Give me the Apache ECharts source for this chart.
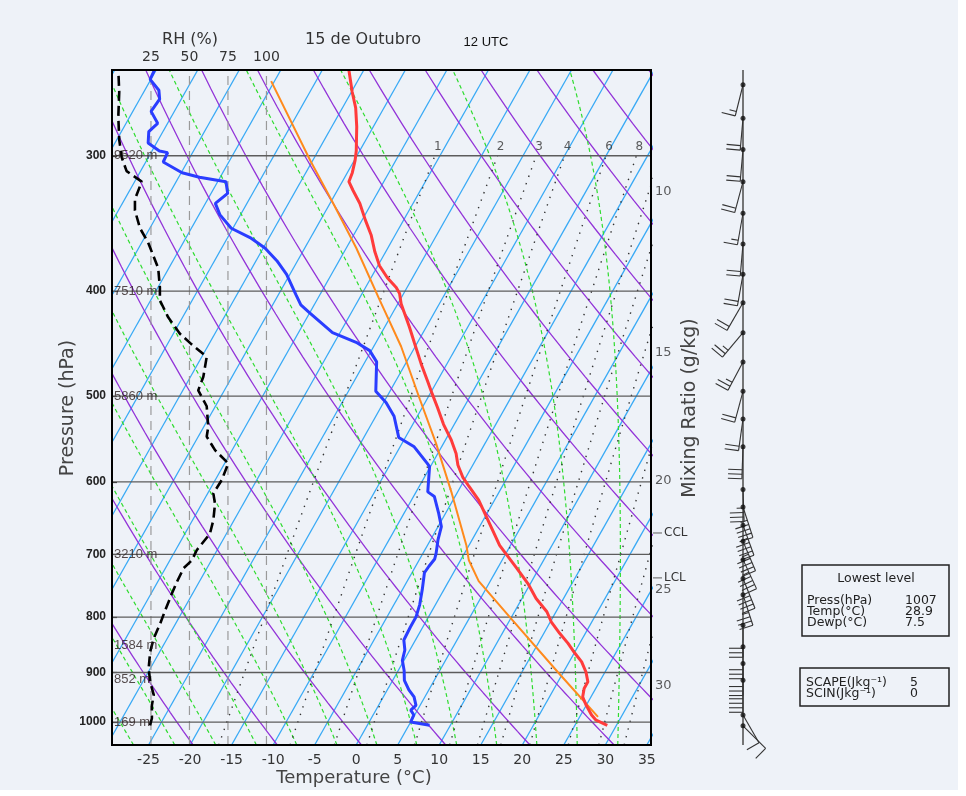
<!DOCTYPE html>
<html><head><meta charset="utf-8">
<script src="https://cdn.jsdelivr.net/npm/echarts@6/dist/echarts.min.js"></script>
<style>html,body{margin:0;padding:0;background:#eef2f8;}#c{width:966px;height:796px;}</style>
</head><body><div id="c"></div>
<script>
// ---------------- data ----------------
const tempP = [1007,996,985,965,948,931,918,899,880,864,846,828,808,791,769,745,721,701,687,624,606,594,579,565,549,531,512,498,484,467,447,432,411,402,397,389,379,368,355,344,332,323,317,311,303,297,282,271,262,250];
const tempT = [28.9,27.2,26.3,25.0,24.0,23.6,23.6,22.7,21.5,20.1,18.6,16.9,15.1,13.9,11.7,9.7,7.3,5.2,3.7,-1.9,-4.0,-5.4,-6.8,-7.8,-9.3,-11.3,-13.2,-14.7,-16.2,-18.1,-20.3,-22.0,-24.6,-25.5,-26.3,-28.0,-29.8,-31.3,-32.9,-34.6,-36.4,-38.1,-39.2,-39.4,-39.9,-40.4,-42.0,-43.4,-44.9,-46.8];
const dewP = [1007,1000,985,975,965,948,934,915,896,877,858,840,817,800,779,755,728,718,707,699,679,660,642,619,613,581,577,557,546,522,507,495,465,454,446,437,419,412,403,386,375,365,357,350,340,332,325,317,314,311,304,298,297,292,285,280,273,266,261,255,250];
const dewT = [7.5,5.0,4.9,4.2,4.5,3.7,2.6,1.4,0.7,-0.2,-0.6,-1.4,-1.5,-1.5,-1.9,-2.6,-3.5,-3.4,-3.2,-3.4,-4.1,-4.6,-5.8,-7.5,-8.6,-10.1,-10.6,-13.3,-15.8,-17.8,-19.7,-21.7,-23.6,-25.2,-27.4,-30.9,-35.0,-36.6,-37.9,-40.4,-42.5,-44.8,-47.3,-50.2,-52.5,-53.8,-53.0,-54.0,-57.5,-59.9,-62.9,-63.0,-64.1,-66.0,-66.7,-66.2,-67.8,-67.6,-68.3,-70.1,-70.2];
const parcelP = [989,899,800,741,709,687,615,553,504,450,408,365,332,303,256];
const parcelT = [27.2,19.3,9.8,3.6,1.0,-0.3,-5.6,-10.9,-15.8,-21.7,-27.4,-33.8,-39.6,-45.3,-55.4];
const rhP = [1007,992,965,944,918,892,861,837,811,788,761,742,721,709,694,670,651,629,615,598,577,561,545,534,511,494,480,460,448,438,423,414,408,397,381,371,361,350,337,329,317,313,310,301,290,276,262,250];
const rhV = [24.4,25.6,25.6,26.8,24.5,23.5,24.5,26.8,31.0,34.3,38.6,41.9,46.2,51.6,54.7,63.3,65.5,66.6,65.5,70.9,75.2,66.6,61.2,62.2,61.2,55.7,59.0,61.2,51.4,43.8,36.2,33.0,30.8,30.8,29.7,26.5,23.2,17.9,14.6,14.6,19.0,13.5,9.2,6.0,4.4,3.8,4.4,3.8];
const windP = [258,277,296,317,339,362,386,410,437,465,495,525,557,610,633,658,681,708,737,763,814,852,883,915,985,1008];
const windDir = [194,185,185,195,190,185,190,210,220,208,195,188,182,178,162,160,157,155,158,162,180,180,180,180,150,135];
const windSpd = [15,20,20,20,15,20,20,20,25,25,20,20,30,35,45,45,45,45,40,35,30,30,30,40,10,10];
const pressureTicks = [300,400,500,600,700,800,900,1000];
const tempTicks = [-25,-20,-15,-10,-5,0,5,10,15,20,25,30,35];
const rhTicks = [25,50,75,100];
const heightP = [300,400,500,700,850,913,1000];
const heightLabels = ['9520 m','7510 m','5860 m','3210 m','1584 m','852 m','169 m'];
const mixVals = [1,2,3,4,6,8,10,12,15,20,25,30];
const mixTopVals = [1,2,3,4,6,8];
const mixRightVals = [10,15,20,25,30];
const mixRightP = [324,456,599,755,926];
const levelNames = ['CCL','LCL'];
const levelP = [669,736];
const lowestNames = ['Press(hPa)','Temp(°C)','Dewp(°C)'];
const lowestVals = ['1007','28.9','7.5'];
const indexNames = ['SCAPE(Jkg\u207B\u00B9)','SCIN(Jkg\u207B\u00B9)'];
const indexVals = ['5','0'];

// ---------------- skew-T geometry ----------------
const P_BOT=1050, P_TOP=250;
const YMIN=Math.log(1000/P_BOT), YMAX=Math.log(1000/P_TOP);
const K=32.0, XMIN=-29.4, XMAX=35.5;
const RHMIN=-0.3, RHMAX=349.7;
function yv(p){return Math.log(1000/p);}
function sx(T,p){return T + K*(yv(p)-YMIN);}
function es(Tc){return 6.112*Math.exp(17.67*Tc/(Tc+243.5));}
function tdFromW(w,p){const e=w*p/(622+w);const a=Math.log(e/6.112);return 243.5*a/(17.67-a);}
function moist(twC){
  const Rd=287.04,Cp=1005.7,Lv=2.501e6,eps=0.622;
  function f(p,T){const e=es(T-273.15);const rs=eps*e/(p-e);return (Rd*T+Lv*rs)/(Cp+Lv*Lv*rs*eps/(Rd*T*T))/p;}
  function run(p0,T0,p1,dp){const out=[[p0,T0]];let p=p0,T=T0;const n=Math.round(Math.abs(p1-p0)/Math.abs(dp));
    for(let i=0;i<n;i++){const k1=f(p,T),k2=f(p+dp/2,T+dp/2*k1),k3=f(p+dp/2,T+dp/2*k2),k4=f(p+dp,T+dp*k3);T+=dp/6*(k1+2*k2+2*k3+k4);p+=dp;out.push([p,T]);}
    return out;}
  const up=run(1000,twC+273.15,P_TOP,-5);
  const down=run(1000,twC+273.15,P_BOT,5).slice(1).reverse();
  return down.concat(up).map(a=>[sx(a[1]-273.15,a[0]),yv(a[0])]);
}

const series=[];
function gl(pts,color,width,type,z,xi){series.push({type:'line',data:pts,symbol:'none',silent:true,animation:false,xAxisIndex:xi||0,yAxisIndex:0,lineStyle:{color:color,width:width,type:type},z:z});}
// isotherms
for(let T=-80;T<=35;T+=5) gl([[sx(T,P_BOT),YMIN],[sx(T,P_TOP),YMAX]],'#38a9f5',1.3,'solid',1);
// dry adiabats
for(let th=230;th<=400;th+=10){const pts=[];for(let p=P_BOT;p>=P_TOP;p-=10){pts.push([sx(th*Math.pow(p/1000,0.2857)-273.15,p),yv(p)]);}gl(pts,'#9334d8',1.3,'solid',1);}
// moist adiabats
for(let tw=-35;tw<=35;tw+=5) gl(moist(tw),'#2fdc2f',1.2,[4,3],2);
// mixing ratio lines
mixVals.forEach(w=>{const pts=[];for(let p=P_BOT;p>=300;p-=10){pts.push([sx(tdFromW(w,p),p),yv(p)]);}gl(pts,'#333',1.4,[1.4,6.5],2);});
// RH reference dashed lines
rhTicks.forEach(r=>gl([[r,YMIN],[r,YMAX]],'#9a9a9a',1.2,[9,6],2,1));
// isobars
pressureTicks.forEach(p=>gl([[XMIN,yv(p)],[XMAX,yv(p)]],'#5c5c5c',1.3,'solid',3));

// data curves
series.push({type:'line',name:'RH',xAxisIndex:1,yAxisIndex:0,symbol:'none',z:8,
  data:rhP.map((p,i)=>[rhV[i],yv(p)]),lineStyle:{color:'#000',width:2.6,type:[10,5]}});
series.push({type:'line',name:'Parcel',symbol:'none',z:9,
  data:parcelP.map((p,i)=>[sx(parcelT[i],p),yv(p)]),lineStyle:{color:'#ff8a1c',width:2}});
series.push({type:'line',name:'Dewpoint',symbol:'none',z:10,
  data:dewP.map((p,i)=>[sx(dewT[i],p),yv(p)]),lineStyle:{color:'#2a3dff',width:3}});
series.push({type:'line',name:'Temperature',symbol:'none',z:11,
  data:tempP.map((p,i)=>[sx(tempT[i],p),yv(p)]),lineStyle:{color:'#ff3b3b',width:3}});

// labels inside/around plot
series.push({type:'scatter',symbolSize:0,clip:false,silent:true,z:12,
  data:heightP.map(p=>[XMIN,yv(p)]),
  label:{show:true,position:'right',distance:2,formatter:pr=>heightLabels[pr.dataIndex],
    fontFamily:'Liberation Sans',fontSize:13,color:'#2b1d1d'}});
series.push({type:'scatter',symbolSize:0,clip:false,silent:true,z:12,
  data:mixTopVals.map(w=>[sx(tdFromW(w,300),300),yv(300)]),
  label:{show:true,position:'top',distance:3,offset:[3,0],formatter:pr=>String(mixTopVals[pr.dataIndex]),
    fontFamily:'DejaVu Sans',fontSize:12,color:'#333'}});
series.push({type:'scatter',symbolSize:0,clip:false,silent:true,z:12,
  data:mixRightP.map(p=>[XMAX,yv(p)]),
  label:{show:true,position:'right',distance:4,formatter:pr=>String(mixRightVals[pr.dataIndex]),
    fontFamily:'DejaVu Sans',fontSize:13,color:'#333'}});
series.push({type:'custom',clip:false,silent:true,z:12,
  data:levelP.map((p,i)=>[XMAX,yv(p),i]),
  renderItem:(params,api)=>{const c=api.coord([api.value(0),api.value(1)]);const nm=levelNames[api.value(2)];
    return {type:'group',children:[
      {type:'line',shape:{x1:c[0]+2,y1:c[1],x2:c[0]+11,y2:c[1]},style:{stroke:'#777',lineWidth:1.2}},
      {type:'text',style:{text:nm,x:c[0]+13,y:c[1],font:'12px "DejaVu Sans"',fill:'#333',align:'left',verticalAlign:'middle',textAlign:'left',textVerticalAlign:'middle'}}]};}});

// wind barbs
series.push({type:'line',xAxisIndex:2,yAxisIndex:1,symbol:'none',silent:true,z:5,
  data:[[0,YMIN],[0,YMAX]],lineStyle:{color:'#555',width:1.6}});
series.push({type:'custom',xAxisIndex:2,yAxisIndex:1,silent:true,z:6,clip:false,
  data:windP.map((p,i)=>[0,yv(p),windDir[i],windSpd[i]]),
  renderItem:(params,api)=>{
    const c=api.coord([api.value(0),api.value(1)]);
    const d=api.value(2)*Math.PI/180, s=api.value(3);
    const ux=Math.sin(d), uy=-Math.cos(d), L=32;
    const ex=c[0]+ux*L, ey=c[1]+uy*L, fx=-uy, fy=ux;
    const st={stroke:'#333',lineWidth:1.1};
    const ch=[{type:'line',shape:{x1:c[0],y1:c[1],x2:ex,y2:ey},style:st}];
    let rem=Math.round(s/5)*5, pos=0; const step=4.5, FL=14;
    while(rem>=50){const bx=ex-ux*pos,by=ey-uy*pos;ch.push({type:'polygon',shape:{points:[[bx,by],[bx+fx*FL,by+fy*FL],[bx-ux*6,by-uy*6]]},style:{fill:'#333'}});pos+=7;rem-=50;}
    while(rem>=10){const bx=ex-ux*pos,by=ey-uy*pos;ch.push({type:'line',shape:{x1:bx,y1:by,x2:bx+fx*FL,y2:by+fy*FL},style:st});pos+=step;rem-=10;}
    if(rem>=5){if(pos===0)pos=step;const bx=ex-ux*pos,by=ey-uy*pos;ch.push({type:'line',shape:{x1:bx,y1:by,x2:bx+fx*FL/2,y2:by+fy*FL/2},style:st});}
    return {type:'group',children:ch};
  }});
series.push({type:'scatter',xAxisIndex:2,yAxisIndex:1,symbolSize:5,silent:true,z:7,
  data:windP.map(p=>[0,yv(p)]),itemStyle:{color:'#111'}});

const T='text';
function txt(text,x,y,font,fill,align,extra){return Object.assign({type:T,x:x,y:y,z:50,style:{text:text,x:0,y:0,font:font,fill:fill||'#333',align:align||'left',textAlign:align||'left',verticalAlign:'middle',textVerticalAlign:'middle'}},extra||{});}
const graphics=[
  {type:'rect',z:-10,shape:{x:958,y:0,width:8,height:796},style:{fill:'#ffffff'}},
  {type:'rect',z:-10,shape:{x:0,y:790,width:966,height:6},style:{fill:'#ffffff'}},
  {type:'rect',z:60,shape:{x:112,y:70,width:539,height:675},style:{fill:'none',stroke:'#000',lineWidth:2}},
  txt('RH (%)',190,40,'16px "DejaVu Sans"','#333','center'),
  txt('15 de Outubro',363,40,'16px "DejaVu Sans"','#333','center'),
  txt('12 UTC',486,42,'13px "Liberation Sans"','#111','center'),
  txt('Pressure (hPa)',68,408,'19px "DejaVu Sans"','#444','center',{rotation:Math.PI/2}),
  txt('Mixing Ratio (g/kg)',690,408,'19px "DejaVu Sans"','#444','center',{rotation:Math.PI/2}),
  txt('Temperature (°C)',354,778,'18px "DejaVu Sans"','#444','center'),
  {type:'rect',z:50,shape:{x:802,y:565,width:147,height:71},style:{fill:'none',stroke:'#222',lineWidth:1.5}},
  txt('Lowest level',876,579,'12.5px "DejaVu Sans"','#222','center'),
  {type:'rect',z:50,shape:{x:800,y:668,width:149,height:38},style:{fill:'none',stroke:'#222',lineWidth:1.5}}
];
lowestNames.forEach((n,i)=>{graphics.push(txt(n,807,601+i*11,'12.5px "DejaVu Sans"','#222'));graphics.push(txt(lowestVals[i],905,601+i*11,'12.5px "DejaVu Sans"','#222'));});
indexNames.forEach((n,i)=>{graphics.push(txt(n,806,683+i*11,'12.5px "DejaVu Sans"','#222'));graphics.push(txt(indexVals[i],910,683+i*11,'12.5px "DejaVu Sans"','#222'));});

const chart=echarts.init(document.getElementById('c'),null,{renderer:'canvas'});
chart.setOption({
  backgroundColor:'#eef2f8',animation:false,
  grid:[{left:112,top:70,width:539,height:675},{left:693,top:70,width:100,height:675}],
  xAxis:[
    {type:'value',gridIndex:0,min:XMIN,max:XMAX,position:'bottom',axisLine:{show:false,onZero:false},axisTick:{show:false},splitLine:{show:false},
      axisLabel:{customValues:tempTicks,fontFamily:'DejaVu Sans',fontSize:14,color:'#333',margin:8,formatter:v=>String(Math.round(v))}},
    {type:'value',gridIndex:0,min:RHMIN,max:RHMAX,position:'top',axisLine:{show:false,onZero:false},axisTick:{show:false},splitLine:{show:false},
      axisLabel:{customValues:rhTicks,fontFamily:'DejaVu Sans',fontSize:14,color:'#333',margin:6,formatter:v=>String(Math.round(v))}},
    {type:'value',gridIndex:1,min:-1,max:1,show:false,axisLine:{onZero:false}}
  ],
  yAxis:[
    {type:'value',gridIndex:0,min:YMIN,max:YMAX,position:'left',axisLine:{show:false,onZero:false},splitLine:{show:false},
      axisTick:{show:true,inside:true,length:5,customValues:pressureTicks.map(yv),lineStyle:{color:'#222',width:1.2}},
      axisLabel:{customValues:pressureTicks.map(yv),formatter:v=>String(Math.round(1000/Math.exp(v))),fontFamily:'Liberation Sans',fontWeight:'bold',fontSize:12,color:'#222',margin:6}},
    {type:'value',gridIndex:1,min:YMIN,max:YMAX,show:false,axisLine:{onZero:false}}
  ],
  series:series,
  graphic:graphics
});
</script></body></html>
